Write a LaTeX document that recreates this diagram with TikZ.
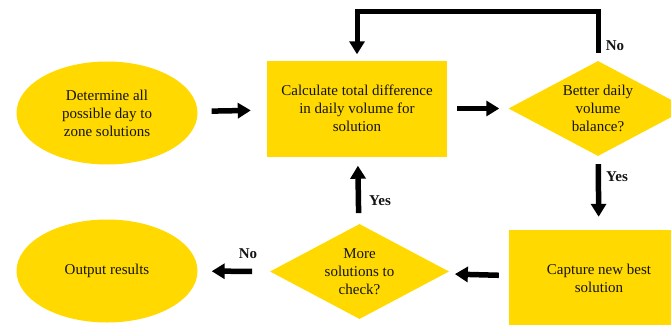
\documentclass[tikz,border=0pt]{standalone}
\usepackage{fontspec}
\setmainfont{Liberation Serif}
\usetikzlibrary{shapes.geometric,arrows.meta}
\definecolor{gold}{RGB}{255,217,0}
\definecolor{ink}{RGB}{20,20,20}
\begin{document}
\begin{tikzpicture}[x=1pt,y=-1pt,
  every node/.style={font=\fontsize{15}{18}\selectfont, text=ink, align=center},
  oval/.style={ellipse, fill=gold, minimum width=181pt, minimum height=103pt, inner sep=0pt},
  box/.style={rectangle, fill=gold, minimum width=180pt, minimum height=96pt, inner sep=0pt},
  dia/.style={diamond, fill=gold, minimum width=179pt, minimum height=95pt, inner sep=0pt, shape aspect=1.87},
  lbl/.style={font=\fontsize{15}{18}\selectfont\bfseries},
  flow/.style={draw=black, line width=5.5pt, -{Triangle[width=15pt,length=13pt]}}]
\useasboundingbox (0,0) rectangle (671,324);
\clip (0,0) rectangle (671,324);

\node[oval] (det) at (107,113) {Determine all\\possible day to\\zone solutions};
\node[box] (calc) at (357,108.5) {Calculate total difference\\in daily volume for\\solution};
\node[dia] (better) at (598,108.5) {Better daily\\volume\\balance?};
\node[box] (cap) at (599,278) {Capture new best\\solution};
\node[dia] (more) at (359.5,271.5) {More\\solutions to\\check?};
\node[oval] (out) at (107,271) {Output results};

\draw[flow, shorten <=14pt, shorten >=16pt] (det) -- (calc);
\draw[flow, shorten <=10pt, shorten >=9pt] (calc) -- (better);
\draw[flow, shorten <=8pt, shorten >=13pt] (better) -- (cap);
\draw[flow, shorten <=10pt, shorten >=10pt] (cap) -- (more);
\draw[flow, shorten <=11pt, shorten >=9pt] (more) -- (calc);
\draw[flow, shorten <=18pt, shorten >=14pt] (more) -- (out);
\draw[flow, line width=5pt, shorten <=8pt, shorten >=6pt] (better.north) -- ++(0,-49) -| (calc.north);

\node[lbl] (nolbl1) at (615,46) {No};
\node[lbl] (yeslbl1) at (617,177) {Yes};
\node[lbl] (yeslbl2) at (380,201) {Yes};
\node[lbl] (nolbl2) at (248,254) {No};
\end{tikzpicture}
\end{document}
